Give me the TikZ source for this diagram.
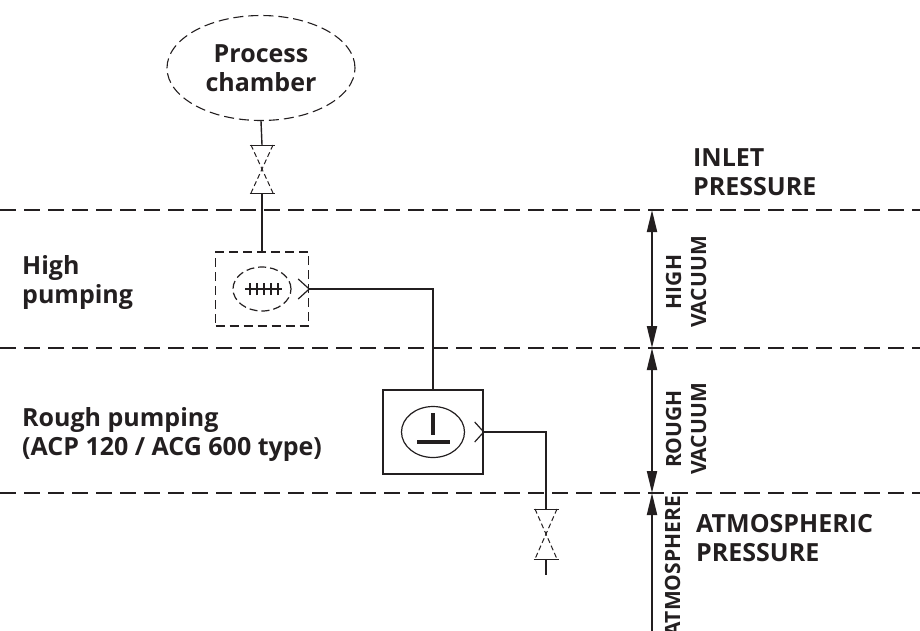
\documentclass[tikz,border=0pt]{standalone}
\usepackage{fontspec}
\setmainfont{Open Sans}
\usetikzlibrary{arrows.meta,shapes.geometric}
\definecolor{ink}{HTML}{231F20}
\begin{document}
\begin{tikzpicture}[x=1pt,y=-1pt, color=ink,
  level/.style={line width=2pt, dash pattern=on 16pt off 8pt},
  conn/.style={line width=1.4pt},
  txt/.style={font=\fontsize{25}{29}\selectfont\bfseries, align=left, inner sep=0pt},
  vtxt/.style={font=\fontsize{21}{25}\selectfont\bfseries, align=center, rotate=90, inner sep=0pt},
  dimline/.style={line width=2pt, {Triangle[length=22pt,width=10pt]}-{Triangle[length=22pt,width=10pt]}},
  valvebar/.style={line width=1pt},
  valvediag/.style={line width=1pt, dash pattern=on 5pt off 3pt},
  outlet/.style={line width=1.2pt},
  dbox/.style={draw, line width=1.4pt, dash pattern=on 9pt off 5pt},
]
\useasboundingbox (0,0) rectangle (920,630);
\clip (0,0) rectangle (920,630);

% pressure levels
\coordinate (L1w) at (0,210);   \coordinate (L1e) at (920,210);
\coordinate (L2w) at (0,348);   \coordinate (L2e) at (920,348);
\coordinate (L3w) at (0,493);   \coordinate (L3e) at (920,493);
\draw[level] (L1w) -- (L1e);
\draw[level] (L2w) -- (L2e);
\draw[level] (L3w) -- (L3e);

% process chamber
\node[ellipse, draw, line width=1.1pt, dash pattern=on 10pt off 5pt,
      minimum width=188pt, minimum height=105pt, txt, align=center] (chamber) at (261,68)
      {Process\\chamber};

% valve 1
\coordinate (v1t) at (262,145);
\coordinate (v1b) at (262,193);
\draw[conn] (chamber.south) -- (v1t);
\draw[valvebar] ([xshift=-12.5pt]v1t) -- ([xshift=12.5pt]v1t);
\draw[valvebar] ([xshift=-12.5pt]v1b) -- ([xshift=12.5pt]v1b);
\draw[valvediag] ([xshift=-11pt]v1t) -- ([xshift=11pt]v1b);
\draw[valvediag] ([xshift=11pt]v1t) -- ([xshift=-11pt]v1b);

% high vacuum pump
\node[dbox, minimum width=93pt, minimum height=74pt] (hp) at (262,289) {};
\node[ellipse, draw, line width=1.2pt, dash pattern=on 8pt off 4pt,
      minimum width=58pt, minimum height=44pt, inner sep=0pt] (hpe) at (hp.center) {};
\draw[line width=1.2pt] ([xshift=-17pt]hp.center) -- ([xshift=20pt]hp.center);
\foreach \dx in {-12,-5,2,9,16}
  \draw[line width=1.2pt] ([shift={(\dx pt,-6pt)}]hp.center) -- ([shift={(\dx pt,6pt)}]hp.center);
\draw[outlet] ([shift={(-11pt,-10pt)}]hp.east) -- (hp.east) -- ([shift={(-11pt,10pt)}]hp.east);
\draw[conn] (v1b) -- (hp.north);

% rough pump
\node[draw, line width=1.4pt, minimum width=100pt, minimum height=84pt] (rp) at (433,432) {};
\node[ellipse, draw, line width=1.2pt, minimum width=63pt, minimum height=51pt, inner sep=0pt] (rpe) at (rp.center) {};
\draw[line width=3.5pt] ([yshift=19pt]rp.center) -- ([yshift=-3pt]rp.center);
\draw[line width=3.5pt] ([shift={(-16pt,-10pt)}]rp.center) -- ([shift={(17pt,-10pt)}]rp.center);
\draw[outlet] ([shift={(-9pt,-10pt)}]rp.east) -- (rp.east) -- ([shift={(-9pt,10pt)}]rp.east);
\draw[conn] (hp.east) -| (rp.north);

% valve 2
\coordinate (v2t) at (546,509);
\coordinate (v2b) at (546,559);
\coordinate (v2end) at (546,575);
\draw[conn] (rp.east) -| (v2t);
\draw[valvebar] ([xshift=-12.5pt]v2t) -- ([xshift=12.5pt]v2t);
\draw[valvebar] ([xshift=-12.5pt]v2b) -- ([xshift=12.5pt]v2b);
\draw[valvediag] ([xshift=-11pt]v2t) -- ([xshift=11pt]v2b);
\draw[valvediag] ([xshift=11pt]v2t) -- ([xshift=-11pt]v2b);
\draw[conn] (v2b) -- (v2end);

% vacuum ranges
\coordinate (A1) at (652,210);
\coordinate (A2) at (652,348);
\coordinate (A3) at (652,493);
\coordinate (A4) at (652,640);
\draw[dimline] (A1) -- (A2);
\draw[dimline] (A2) -- (A3);
\draw[line width=2pt, {Triangle[length=22pt,width=10pt]}-] (A3) -- (A4);

\node[vtxt] (hv) at (686,282) {HIGH\\VACUUM};
\node[vtxt] (rv) at (686,429) {ROUGH\\VACUUM};
\node[vtxt, anchor=base east] (atm) at (680,496) {ATMOSPHERE};

% labels (base anchor = baseline of last line)
\node[txt, anchor=base west] (inlet) at (693,195) {INLET\\PRESSURE};
\node[txt, anchor=base west] (high) at (22,303) {High\\pumping};
\node[txt, anchor=base west] (rough) at (22,455) {Rough pumping\\(ACP 120 / ACG 600 type)};
\node[txt, anchor=base west] (atmp) at (696,561) {ATMOSPHERIC\\PRESSURE};
\end{tikzpicture}
\end{document}
